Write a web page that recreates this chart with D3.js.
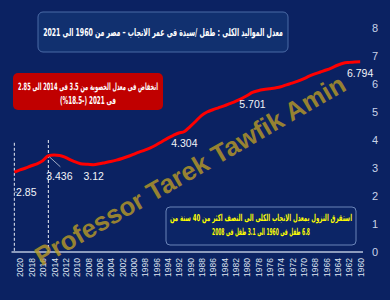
<!DOCTYPE html>
<html>
<head>
<meta charset="utf-8">
<script src="https://cdn.jsdelivr.net/npm/d3@7"></script>
<style>
  body { margin: 0; background: #0b2262; }
  svg { display: block; }
</style>
</head>
<body>
<div class="chart"></div>
<script>
// total fertility rate, Egypt, 2021 back to 1960
var years = d3.range(2021, 1959, -1);
var tfr = [
  2.85, 2.93, 3.00, 3.08, 3.15, 3.26, 3.436, 3.46, 3.45, 3.38,
  3.28, 3.20, 3.14, 3.13, 3.12, 3.15, 3.19, 3.23, 3.28, 3.34,
  3.41, 3.49, 3.57, 3.64, 3.72, 3.82, 3.94, 4.06, 4.16, 4.25,
  4.304, 4.48, 4.67, 4.87, 5.00, 5.08, 5.15, 5.22, 5.30, 5.38,
  5.47, 5.58, 5.701, 5.76, 5.80, 5.83, 5.86, 5.90, 5.97, 6.03,
  6.10, 6.18, 6.28, 6.36, 6.43, 6.50, 6.58, 6.67, 6.74, 6.77,
  6.79, 6.794
];
var xTickYears = d3.range(2020, 1959, -2);
var yTicks = [0, 1, 2, 3, 4, 5, 6, 7, 8];
var labelYears = [2021, 2015, 2007, 1991, 1979, 1960];
var markerYears = [2021, 2015];

var titleText = 'معدل المواليد الكلى : طفل /سيدة فى عمر الانجاب – مصر من 1960 الى 2021';
var dropText = ['انخفاض فى معدل الخصوبة من 3.5 فى 2014 الى 2.85', 'فى 2021 (-18.5%)'];
var halfText = ['استقرق النزول بمعدل الانجاب الكلى الى النصف  اكثر من 40 سنة من', '6.8 طفل فى 1960 الى 3.1 طفل فى 2008'];
var watermark = 'Professor Tarek Tawfik Amin';

var width = 390, height = 300;
var data = years.map(function (y, i) { return { year: y, value: tfr[i] }; });

var svg = d3.select('.chart')
    .append('svg')
    .attr('width', width)
    .attr('height', height)

svg.append('rect')
    .attr('width', width)
    .attr('height', height)
    .style('fill', '#0b2262')

var xScale = d3.scalePoint()
    .domain(years)
    .range([11.5, 363])
    .padding(0.5)

var yScale = d3.scaleLinear()
    .domain([0, 8])
    .range([252, 28])

// centred rtl text, squeezed sideways so it is `w` px wide (DejaVu arabic is wide)
function boxText(x, y, str, size, w, color) {
    var t = svg.append('text')
        .attr('dy', '0.35em')
        .attr('direction', 'rtl')
        .style('text-anchor', 'middle')
        .style('font-family', 'DejaVu Sans, sans-serif')
        .style('font-weight', 'bold')
        .style('font-size', size + 'px')
        .style('fill', color)
        .text(str)
    var k = Math.min(1, w / t.node().getComputedTextLength());
    t.attr('transform', 'translate(' + x + ',' + y + ') scale(' + k.toFixed(3) + ',1)')
    return t
}

// y axis on the right, labels only
var yAxis = d3.axisRight(yScale).tickValues(yTicks).tickSize(0).tickPadding(6)
var gy = svg.append('g')
    .attr('transform', 'translate(366,0)')
    .call(yAxis)
gy.select('.domain').remove()
gy.selectAll('text')
    .style('font-family', 'Liberation Sans, Arial, sans-serif')
    .style('font-size', '11px')
    .style('fill', '#c9d3e8')

// x axis, rotated year labels
var xAxis = d3.axisBottom(xScale).tickValues(xTickYears).tickSize(0).tickPadding(0)
var gx = svg.append('g')
    .attr('transform', 'translate(0,252)')
    .call(xAxis)
gx.select('.domain')
    .attr('d', 'M11.5,0H363')
    .style('stroke', '#b9c5dc')
    .style('stroke-width', 1.5)
gx.selectAll('text')
    .attr('transform', 'rotate(-90)')
    .attr('x', -6)
    .attr('y', 0)
    .attr('dy', '0.35em')
    .style('text-anchor', 'end')
    .style('font-family', 'Liberation Sans, Arial, sans-serif')
    .style('font-size', '8.5px')
    .style('fill', '#dde3ef')

// dashed markers
svg.selectAll('.marker')
    .data(markerYears)
    .enter().append('line')
    .attr('x1', function (d) { return xScale(d); })
    .attr('x2', function (d) { return xScale(d); })
    .attr('y1', function (d, i) { return yScale(i ? 4.0 : 3.9); })
    .attr('y2', yScale(0))
    .style('stroke', '#e8ecf4')
    .style('stroke-width', 1)
    .style('stroke-dasharray', '3,2')

// the line
var line = d3.line()
    .x(function (d) { return xScale(d.year); })
    .y(function (d) { return yScale(d.value); })
    .curve(d3.curveMonotoneX)

svg.append('path')
    .datum(data)
    .attr('d', line)
    .style('fill', 'none')
    .style('stroke', '#ff0000')
    .style('stroke-width', 3)

// data labels
var offsets = { 2021: [12, 20], 2015: [11, 21] };
var labelled = data.filter(function (d) { return labelYears.indexOf(d.year) >= 0; });
svg.selectAll('.dlab')
    .data(labelled)
    .enter().append('text')
    .attr('x', function (d) { return xScale(d.year) + (offsets[d.year] ? offsets[d.year][0] : 0); })
    .attr('y', function (d) { return yScale(d.value) + (offsets[d.year] ? offsets[d.year][1] : 12); })
    .attr('dy', '0.35em')
    .style('text-anchor', 'middle')
    .style('font-family', 'Liberation Sans, Arial, sans-serif')
    .style('font-size', '10.5px')
    .style('fill', '#f2f4f8')
    .text(function (d) { return String(d.value); })

// leader lines for the two moved labels
var peak = data[years.indexOf(2015)];
svg.append('line')
    .attr('x1', xScale(2015) + 1).attr('y1', yScale(peak.value) + 1)
    .attr('x2', xScale(2015) + 12).attr('y2', yScale(peak.value) + 11)
    .style('stroke', '#c8cedc').style('stroke-width', 0.8)
svg.append('line')
    .attr('x1', xScale(2021)).attr('y1', yScale(2.85) + 20)
    .attr('x2', xScale(2021) + 3).attr('y2', yScale(2.85) + 20)
    .style('stroke', '#c8cedc').style('stroke-width', 0.8)

// title box
svg.append('rect')
    .attr('x', 38).attr('y', 12).attr('width', 250).attr('height', 40).attr('rx', 5)
    .style('fill', '#11306f')
    .style('stroke', '#4b6aa6')
boxText(163, 32, titleText, 11, 240, '#ffffff')

// red box
svg.append('rect')
    .attr('x', 13).attr('y', 73).attr('width', 150).attr('height', 37).attr('rx', 5)
    .style('fill', '#c00000')
boxText(88, 86, dropText[0], 10, 140, '#ffffff')
boxText(88, 100.5, dropText[1], 10, 56, '#ffffff')

// yellow note box
svg.append('rect')
    .attr('x', 166).attr('y', 207).attr('width', 190).attr('height', 38).attr('rx', 4)
    .style('fill', '#0c2566')
    .style('stroke', '#6a84b8')
boxText(261, 218, halfText[0], 9.5, 182, '#ffff00')
boxText(261, 232, halfText[1], 9.5, 98, '#ffff00')

// watermark
svg.append('text')
    .attr('transform', 'translate(190,170) rotate(-30)')
    .attr('dy', '0.35em')
    .style('text-anchor', 'middle')
    .style('font-family', 'Liberation Sans, Arial, sans-serif')
    .style('font-weight', 'bold')
    .style('font-size', '26px')
    .style('fill', '#b99a27')
    .style('opacity', 0.8)
    .text(watermark)
</script>
</body>
</html>
